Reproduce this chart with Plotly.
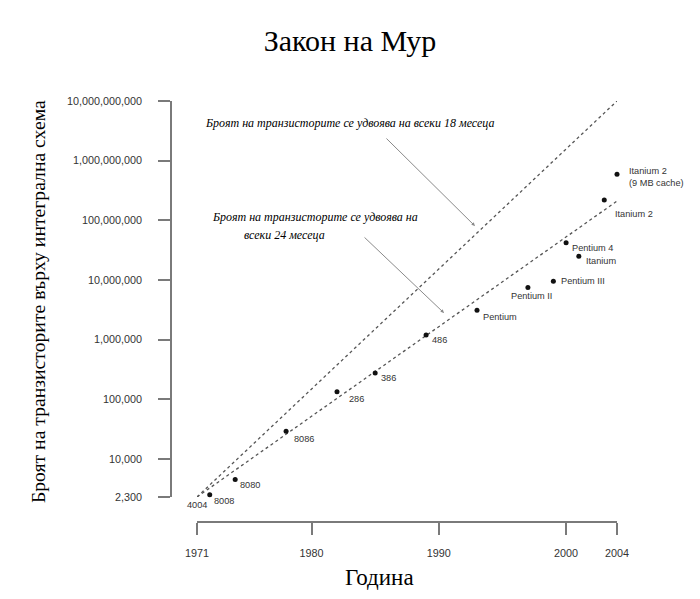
import math
import plotly.graph_objects as go

# ---- data ----
processors = ["4004", "8008", "8080", "8086", "286", "386", "486", "Pentium",
              "Pentium II", "Pentium III", "Pentium 4", "Itanium", "Itanium 2",
              "Itanium 2<br>(9 MB cache)"]
years = [1971, 1972, 1974, 1978, 1982, 1985, 1989, 1993, 1997, 1999, 2000, 2001, 2003, 2004]
transistors = [2300, 2500, 4500, 29000, 134000, 275000, 1200000, 3100000,
               7500000, 9500000, 42000000, 25000000, 220000000, 592000000]

trend_years = [1971, 2004]
trend_18 = [2300, 1e10]
trend_24 = [2300, 2.1e8]

y_tickvals = [2300, 1e4, 1e5, 1e6, 1e7, 1e8, 1e9, 1e10]
y_ticktext = ["2,300", "10,000", "100,000", "1,000,000", "10,000,000",
              "100,000,000", "1,000,000,000", "10,000,000,000"]
x_tickvals = [1971, 1980, 1990, 2000, 2004]
x_ticktext = ["1971", "1980", "1990", "2000", "2004"]

# label offsets in pixels (style)
lab_dx = [0, 2, 3, 6, 10, 4, 4, 4, -19, 6, 4, 5, 9, 10]
lab_dy = [8, 6, 5, 8, 7, 5, 5, 7, 9, 0, 5, 5, 14, 3]
lab_anchor = ["center"] + ["left"] * 13

AXC = "#7a7a7a"
TXT = "#333333"
SERIF = "Liberation Serif, Times New Roman, serif"
SANS = "Liberation Sans, Arial, sans-serif"

W, H = 692, 591  # page body has an 8px margin

fig = go.Figure()
fig.add_trace(go.Scatter(x=trend_years, y=trend_18, mode="lines",
                         line=dict(color="#555", width=1.3, dash="3px,3px"),
                         hoverinfo="skip", cliponaxis=False))
fig.add_trace(go.Scatter(x=trend_years, y=trend_24, mode="lines",
                         line=dict(color="#555", width=1.3, dash="3px,3px"),
                         hoverinfo="skip", cliponaxis=False))
fig.add_trace(go.Scatter(x=years, y=transistors, mode="markers",
                         marker=dict(color="#111", size=5),
                         cliponaxis=False, text=processors))

annotations = []
for name, xv, yv, dx, dy, anc in zip(processors, years, transistors, lab_dx, lab_dy, lab_anchor):
    annotations.append(dict(x=xv, y=math.log10(yv), xref="x", yref="y", text=name,
                            showarrow=False, xanchor=anc, yanchor="middle",
                            xshift=dx, yshift=-dy, align="left",
                            font=dict(family=SANS, size=9.2, color=TXT)))

ann_font = dict(family=SERIF, size=12, color="black")
# 18-month annotation
annotations.append(dict(x=1983.02, y=9.631, xref="x", yref="y",
                        text="<i>Броят на транзисторите се удвоява на всеки 18 месеца</i>",
                        showarrow=False, xanchor="center", yanchor="middle", font=ann_font))
annotations.append(dict(x=1992.84, y=7.904, xref="x", yref="y", text="",
                        showarrow=True, ax=-90, ay=-89, arrowhead=2, arrowsize=0.7,
                        arrowwidth=1, arrowcolor="#8a8a8a"))
# 24-month annotation
annotations.append(dict(x=1972.02, y=8.055, xref="x", yref="y",
                        text="<i>Броят на транзисторите се удвоява на</i>",
                        showarrow=False, xanchor="left", yanchor="middle", font=ann_font))
annotations.append(dict(x=1974.54, y=7.754, xref="x", yref="y",
                        text="<i>всеки 24 месеца</i>",
                        showarrow=False, xanchor="left", yanchor="middle", font=ann_font))
annotations.append(dict(x=1990.41, y=6.446, xref="x", yref="y", text="",
                        showarrow=True, ax=-81, ay=-77, arrowhead=2, arrowsize=0.7,
                        arrowwidth=1, arrowcolor="#8a8a8a"))
# axis titles
annotations.append(dict(x=-0.298, y=0.5226, xref="paper", yref="paper",
                        text="Броят на транзисторите върху интегрална схема",
                        textangle=-90, showarrow=False, xanchor="center", yanchor="middle",
                        font=dict(family=SERIF, size=19.7, color="black")))
annotations.append(dict(x=0.4686, y=-0.133, xref="paper", yref="paper",
                        text="Година", showarrow=False, xanchor="center", yanchor="middle",
                        font=dict(family=SERIF, size=23, color="black")))

fig.update_layout(
    width=W, height=H,
    margin=dict(l=163, r=83, t=93, b=77),
    paper_bgcolor="white", plot_bgcolor="white",
    showlegend=False,
    title=dict(text="Закон на Мур", x=342 / W, xref="container", y=1 - 32 / H,
               yref="container", xanchor="center", yanchor="middle",
               font=dict(family=SERIF, size=30, color="black")),
    xaxis=dict(range=[1971, 2004], domain=[26 / 446, 1], anchor="free", position=0,
               tickvals=x_tickvals, ticktext=x_ticktext, showgrid=False, zeroline=False,
               showline=True, linecolor=AXC, linewidth=1.5, ticks="outside", ticklen=12,
               tickwidth=1.5, tickcolor=AXC, ticklabelstandoff=9,
               tickfont=dict(family=SANS, size=10.8, color=TXT)),
    yaxis=dict(type="log", range=[math.log10(2300), 10], domain=[25 / 421, 1],
               anchor="free", position=0,
               tickvals=y_tickvals, ticktext=y_ticktext, showgrid=False, zeroline=False,
               showline=True, linecolor=AXC, linewidth=1.5, ticks="outside", ticklen=12,
               tickwidth=1.5, tickcolor=AXC, ticklabelstandoff=14,
               tickfont=dict(family=SANS, size=10.8, color=TXT)),
    annotations=annotations,
)

fig.write_html("out.html")
